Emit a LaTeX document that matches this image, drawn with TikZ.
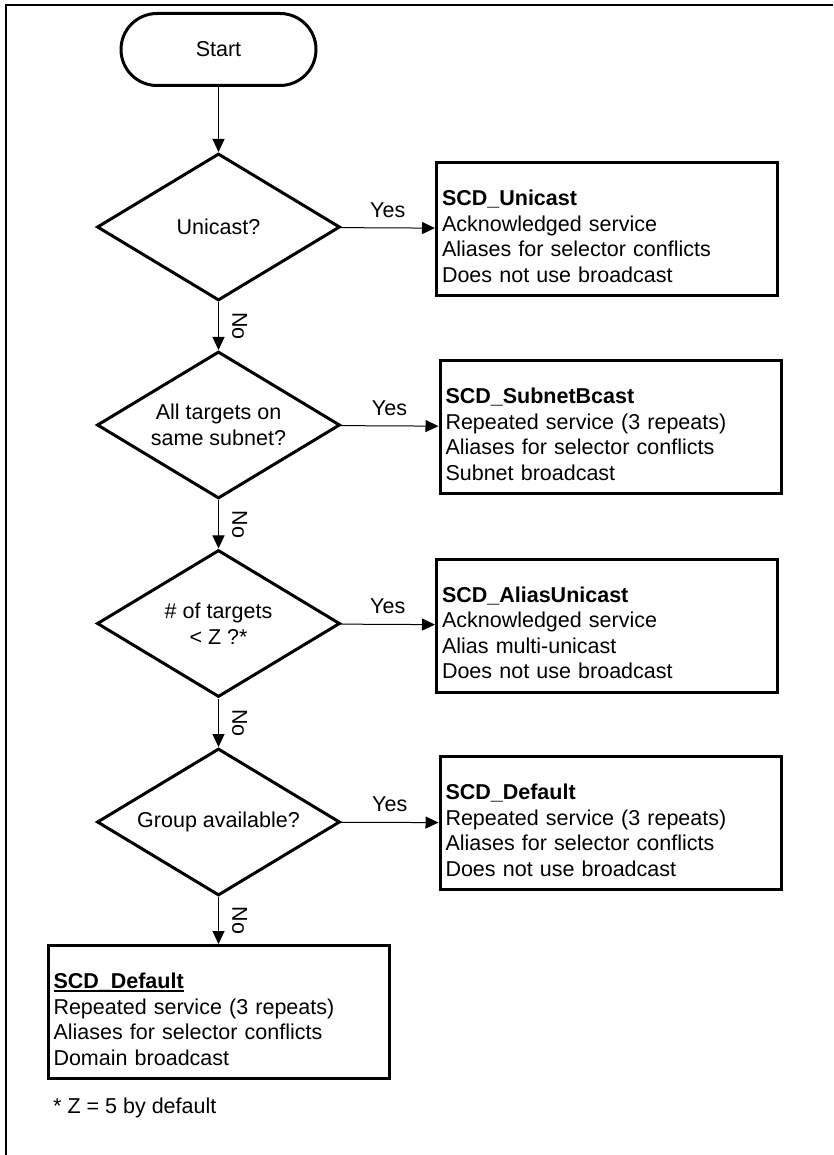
\documentclass[tikz,border=0pt]{standalone}
\usepackage{fontspec}
\setmainfont{Liberation Sans}
\usetikzlibrary{shapes.geometric,arrows.meta}
% bold title with a rule through the underscore line
\newcommand\ulword[1]{\setbox0\hbox{#1}\rlap{\rule[-3.4pt]{\wd0}{1.6pt}}\box0}
% taller first line so the text block sits a little lower in its box
\newcommand\toprow{\rule{0pt}{30pt}}

\begin{document}
\begin{tikzpicture}[x=1pt,y=-1pt,
  every node/.style={font=\fontsize{21.5}{25.5}\selectfont},
  terminal/.style={draw,line width=3pt,rounded corners=36pt,minimum width=195pt,
    minimum height=72pt,inner sep=0pt},
  decision/.style={draw,diamond,aspect=1.65,line width=3pt,minimum width=243pt,
    minimum height=147pt,inner sep=0pt,align=center},
  outcome/.style={draw,line width=3pt,text width=330pt,inner xsep=5.5pt,
    inner ysep=0pt,minimum height=133pt,align=left},
  flow/.style={line width=1pt,-{Triangle[length=13pt,width=12pt]}},
  yeslabel/.style={inner sep=0pt,above=10pt},
  nolabel/.style={rotate=-90,anchor=south,inner sep=0pt}
]
\useasboundingbox (0,0) rectangle (833,1155);

% frame
\draw[line width=2pt] (6,1155) -- (6,5) -- (833,5);

% decision chain
\node[terminal] (start) at (218.5,49.5) {Start};
\node[decision] (q1) at (218.5,227) {Unicast?};
\node[decision] (q2) at (218.5,425) {All targets on\\same subnet?};
\node[decision] (q3) at (218.5,623.5) {\# of targets\\< Z ?*};
\node[decision] (q4) at (218.5,822) {Group available?};

% outcomes
\node[outcome] (r1) at (607,229) {\toprow\textbf{SCD\_Unicast}\\Acknowledged service\\Aliases for selector conflicts\\Does not use broadcast};
\node[outcome] (r2) at (610.5,427) {\toprow\textbf{SCD\_SubnetBcast}\\Repeated service (3 repeats)\\Aliases for selector conflicts\\Subnet broadcast};
\node[outcome] (r3) at (607,625.5) {\toprow\textbf{SCD\_AliasUnicast}\\Acknowledged service\\Alias multi-unicast\\Does not use broadcast};
\node[outcome] (r4) at (610.5,823) {\toprow\textbf{SCD\_Default}\\Repeated service (3 repeats)\\Aliases for selector conflicts\\Does not use broadcast};
\node[outcome] (r5) at (218.5,1012) {\toprow\ulword{\textbf{SCD\_Default}}\\Repeated service (3 repeats)\\Aliases for selector conflicts\\Domain broadcast};

\node[anchor=base west,inner sep=0pt] (note) at (53,1113) {* Z = 5 by default};

% connectors
\draw[flow] (start) -- (q1);
\draw[flow] (q1) -- node[yeslabel] {Yes} (r1);
\draw[flow] (q2) -- node[yeslabel] {Yes} (r2);
\draw[flow] (q3) -- node[yeslabel] {Yes} (r3);
\draw[flow] (q4) -- node[yeslabel] {Yes} (r4);
\draw[flow] (q1) -- coordinate (n1) (q2);
\draw[flow] (q2) -- coordinate (n2) (q3);
\draw[flow] (q3) -- coordinate (n3) (q4);
\draw[flow] (q4) -- coordinate (n4) (r5);
\foreach \c in {n1,n2,n3,n4}
  \node[nolabel] at ([xshift=13.5pt]\c) {No};
\end{tikzpicture}
\end{document}
